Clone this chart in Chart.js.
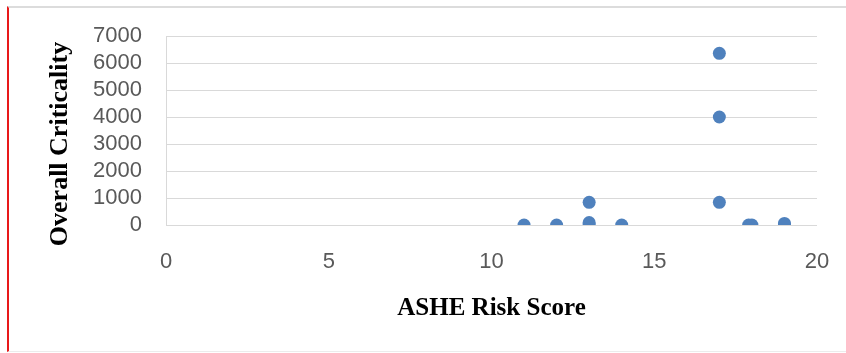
<!DOCTYPE html>
<html lang="en">
<head>
    <meta charset="UTF-8">
    <title>Overall Criticality vs ASHE Risk Score</title>
    <script src="https://cdn.jsdelivr.net/npm/chart.js"></script>
    <style>
        body {
            margin: 0;
            padding: 0;
            background: #ffffff;
            width: 846px;
            height: 353px;
            overflow: hidden;
            position: relative;
        }

        #frame {
            position: absolute;
            left: 7px;
            top: 6px;
            width: 839px;
            height: 346px;
            border-left: 2px solid #e8191a;
            border-top: 2px solid #dcdcdc;
            border-bottom: 1px solid #ececec;
            box-sizing: border-box;
        }

        #chart {
            position: absolute;
            left: 0;
            top: 0;
        }
    </style>
</head>
<body>
    <div id="frame"></div>
    <canvas id="chart" width="846" height="353"></canvas>
    <script>
        // ASHE risk score (x) and overall criticality (y) per item
        const riskScores  = [11, 12, 13, 13, 13, 14, 17, 17, 17, 17.9, 18, 19, 19];
        const criticality = [0, 0, 0, 90, 840, 0, 6360, 4000, 840, 0, 0, 0, 60];

        const xTicks = [0, 5, 10, 15, 20];
        const yTicks = [0, 1000, 2000, 3000, 4000, 5000, 6000, 7000];

        const points = riskScores.map((x, i) => ({ x: x, y: criticality[i] }));

        const yTitlePlugin = {
            id: "yTitle",
            afterDraw(chart) {
                const ctx = chart.ctx;
                ctx.save();
                ctx.translate(60, 144);
                ctx.rotate(-Math.PI / 2);
                ctx.font = "bold 26px 'Liberation Serif'";
                ctx.fillStyle = "#000000";
                ctx.textAlign = "center";
                ctx.textBaseline = "middle";
                ctx.fillText("Overall Criticality", 0, 0);
                ctx.restore();
            }
        };

        new Chart(document.getElementById("chart"), {
            type: "scatter",
            data: {
                datasets: [{
                    label: "Items",
                    data: points,
                    backgroundColor: "#4f81bd",
                    borderColor: "#4f81bd",
                    borderWidth: 0,
                    pointRadius: 6.5,
                    pointHoverRadius: 6.5
                }]
            },
            options: {
                responsive: false,
                animation: false,
                layout: {
                    padding: { left: 10, top: 36, right: 29, bottom: 20 }
                },
                plugins: {
                    legend: { display: false },
                    tooltip: { enabled: false }
                },
                scales: {
                    x: {
                        type: "linear",
                        min: 0,
                        max: 20,
                        afterFit(scale) {
                            scale.height = 108;
                            scale.paddingLeft = 0;
                            scale.paddingRight = 0;
                        },
                        afterBuildTicks(scale) { scale.ticks = xTicks.map(v => ({ value: v })); },
                        grid: { display: false, drawTicks: false },
                        border: { display: false },
                        ticks: {
                            padding: 24,
                            autoSkip: false,
                            color: "#595959",
                            font: { family: "Liberation Sans", size: 22 },
                            callback: v => String(v)
                        },
                        title: {
                            display: true,
                            text: "ASHE Risk Score",
                            color: "#000000",
                            font: { family: "Liberation Serif", size: 25, weight: "bold" },
                            padding: { top: 0, bottom: 9 }
                        }
                    },
                    y: {
                        min: 0,
                        max: 7000,
                        afterFit(scale) {
                            scale.width = 156;
                            scale.paddingTop = 0;
                            scale.paddingBottom = 0;
                        },
                        afterBuildTicks(scale) { scale.ticks = yTicks.map(v => ({ value: v })); },
                        grid: { color: "#d9d9d9", lineWidth: 1, drawTicks: false },
                        border: { display: true, color: "#d9d9d9", width: 1 },
                        ticks: {
                            padding: 24,
                            autoSkip: false,
                            color: "#595959",
                            font: { family: "Liberation Sans", size: 22 },
                            callback: v => String(v)
                        }
                    }
                }
            },
            plugins: [yTitlePlugin]
        });
    </script>
</body>
</html>
